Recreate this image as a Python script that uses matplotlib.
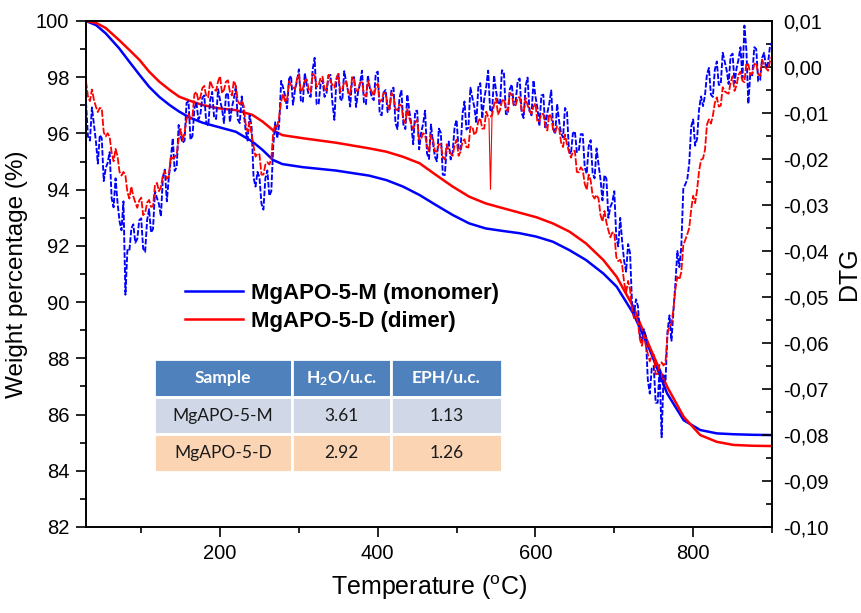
import numpy as np
import matplotlib
matplotlib.use('Agg')
import matplotlib.pyplot as plt
from matplotlib.ticker import MultipleLocator, FuncFormatter

plt.rcParams['font.family'] = ['Liberation Sans', 'DejaVu Sans']
plt.rcParams['mathtext.default'] = 'regular'

# TGA curves (weight %)
tga_temp = [30, 43, 55, 72, 85, 98, 110, 123, 136, 148, 161, 178, 199, 220, 241, 254, 267, 279,
            305, 347, 389, 411, 432, 453, 474, 495, 516, 537, 559, 580, 601, 622, 643, 664,
            686, 703, 724, 745, 767, 788, 809, 830, 851, 875, 900]
tga_monomer = [100.0, 99.85, 99.56, 99.03, 98.55, 98.08, 97.66, 97.3, 97.01, 96.78, 96.57, 96.38,
               96.22, 96.06, 95.71, 95.41, 95.06, 94.91, 94.8, 94.68, 94.5, 94.34, 94.11, 93.81,
               93.45, 93.1, 92.8, 92.62, 92.53, 92.45, 92.33, 92.15, 91.85, 91.5, 91.02, 90.55,
               89.6, 88.3, 86.75, 85.8, 85.45, 85.33, 85.3, 85.28, 85.27]
tga_dimer = [100.0, 99.93, 99.75, 99.32, 98.97, 98.61, 98.2, 97.84, 97.55, 97.31, 97.17, 97.01,
             96.89, 96.83, 96.66, 96.42, 96.12, 95.94, 95.83, 95.67, 95.47, 95.35, 95.17, 94.94,
             94.52, 94.11, 93.75, 93.51, 93.34, 93.18, 93.02, 92.8, 92.51, 92.09, 91.5, 90.9,
             89.84, 88.4, 86.99, 85.92, 85.27, 85.03, 84.92, 84.89, 84.88]

# DTG traces: readings every 5 C (30..900) and the readings in between (32.5..897.5)
dtg_temp_a = np.arange(30, 901, 5)
dtg_temp_b = np.arange(32.5, 900, 5)
dtg_monomer_a = [
    -0.0077, -0.0160, -0.0125, -0.0210, -0.0155, -0.0220, -0.0185, -0.0305, -0.0295, -0.0355,
    -0.0495, -0.0400, -0.0342, -0.0374, -0.0329, -0.0402, -0.0309, -0.0352, -0.0285, -0.0325,
    -0.0223, -0.0240, -0.0155, -0.0218, -0.0150, -0.0160, -0.0075, -0.0150, -0.0076, -0.0104,
    -0.0062, -0.0128, -0.0054, -0.0113, -0.0072, -0.0122, -0.0056, -0.0088, -0.0042, -0.0122,
    -0.0098, -0.0160, -0.0130, -0.0260, -0.0240, -0.0310, -0.0225, -0.0270, -0.0120, -0.0125,
    -0.0045, -0.0090, -0.0019, -0.0050, -0.0005, -0.0077, -0.0041, -0.0065, 0.0020, -0.0081,
    -0.0029, -0.0057, -0.0017, -0.0115, -0.0013, -0.0073, -0.0033, -0.0086, -0.0022, -0.0055,
    -0.0008, -0.0081, -0.0046, -0.0072, -0.0010, -0.0105, -0.0050, -0.0090, -0.0045, -0.0135,
    -0.0050, -0.0135, -0.0095, -0.0168, -0.0095, -0.0143, -0.0095, -0.0200, -0.0165, -0.0205,
    -0.0143, -0.0235, -0.0162, -0.0185, -0.0115, -0.0180, -0.0075, -0.0132, -0.0067, -0.0122,
    -0.0035, -0.0070, -0.0008, -0.0098, -0.0052, -0.0082, -0.0012, -0.0103, -0.0038, -0.0074,
    -0.0025, -0.0111, -0.0023, -0.0105, -0.0064, -0.0128, -0.0060, -0.0100, -0.0051, -0.0146,
    -0.0118, -0.0153, -0.0097, -0.0189, -0.0140, -0.0182, -0.0146, -0.0232, -0.0159, -0.0242,
    -0.0212, -0.0290, -0.0243, -0.0304, -0.0270, -0.0390, -0.0380, -0.0445, -0.0405, -0.0535,
    -0.0520, -0.0595, -0.0585, -0.0710, -0.0650, -0.0730, -0.0805, -0.0680, -0.0540, -0.0530,
    -0.0400, -0.0390, -0.0255, -0.0210, -0.0114, -0.0156, -0.0064, -0.0062, -0.0002, -0.0065,
    0.0012, -0.0038, 0.0012, -0.0037, 0.0029, -0.0003, 0.0043, 0.0090, -0.0080, -0.0018,
    0.0039, -0.0028, 0.0031, 0.0008, 0.0053,
]
dtg_monomer_b = [
    -0.0151, -0.0088, -0.0160, -0.0148, -0.0248, -0.0208, -0.0285, -0.0242, -0.0335, -0.0292,
    -0.0398, -0.0351, -0.0382, -0.0333, -0.0395, -0.0333, -0.0360, -0.0270, -0.0298, -0.0239,
    -0.0292, -0.0202, -0.0226, -0.0126, -0.0165, -0.0078, -0.0158, -0.0090, -0.0114, -0.0067,
    -0.0121, -0.0071, -0.0110, -0.0048, -0.0091, -0.0061, -0.0120, -0.0069, -0.0114, -0.0064,
    -0.0138, -0.0105, -0.0240, -0.0228, -0.0297, -0.0242, -0.0280, -0.0170, -0.0155, -0.0030,
    -0.0063, -0.0026, -0.0082, -0.0031, -0.0073, -0.0013, -0.0061, -0.0005, -0.0081, -0.0037,
    -0.0065, -0.0021, -0.0077, -0.0029, -0.0069, -0.0009, -0.0054, -0.0026, -0.0087, -0.0036,
    -0.0077, -0.0018, -0.0067, -0.0014, -0.0102, -0.0055, -0.0098, -0.0048, -0.0122, -0.0068,
    -0.0125, -0.0060, -0.0124, -0.0096, -0.0179, -0.0124, -0.0188, -0.0125, -0.0195, -0.0134,
    -0.0234, -0.0176, -0.0201, -0.0130, -0.0180, -0.0102, -0.0136, -0.0045, -0.0087, -0.0044,
    -0.0112, -0.0044, -0.0093, -0.0018, -0.0077, -0.0007, -0.0102, -0.0048, -0.0083, -0.0030,
    -0.0100, -0.0042, -0.0096, -0.0029, -0.0089, -0.0062, -0.0134, -0.0080, -0.0134, -0.0080,
    -0.0144, -0.0089, -0.0184, -0.0144, -0.0185, -0.0146, -0.0218, -0.0173, -0.0230, -0.0177,
    -0.0244, -0.0235, -0.0328, -0.0294, -0.0370, -0.0328, -0.0422, -0.0385, -0.0515, -0.0505,
    -0.0585, -0.0570, -0.0680, -0.0655, -0.0730, -0.0655, -0.0670, -0.0575, -0.0595, -0.0470,
    -0.0435, -0.0265, -0.0245, -0.0130, -0.0171, -0.0092, -0.0085, -0.0016, -0.0060, -0.0006,
    -0.0039, 0.0031, -0.0007, 0.0024, -0.0035, 0.0016, -0.0024, 0.0037, -0.0013, 0.0043,
    -0.0031, 0.0020, -0.0003, 0.0047,
]
dtg_dimer_a = [
    -0.0031, -0.0074, -0.0071, -0.0098, -0.0090, -0.0151, -0.0152, -0.0205, -0.0194, -0.0236,
    -0.0236, -0.0286, -0.0281, -0.0306, -0.0284, -0.0317, -0.0289, -0.0303, -0.0252, -0.0261,
    -0.0226, -0.0238, -0.0199, -0.0190, -0.0135, -0.0142, -0.0102, -0.0108, -0.0054, -0.0066,
    -0.0041, -0.0066, -0.0042, -0.0052, -0.0020, -0.0050, -0.0029, -0.0062, -0.0041, -0.0081,
    -0.0084, -0.0141, -0.0146, -0.0195, -0.0190, -0.0234, -0.0207, -0.0200, -0.0126, -0.0108,
    -0.0058, -0.0071, -0.0039, -0.0048, -0.0016, -0.0047, -0.0027, -0.0055, -0.0019, -0.0041,
    -0.0021, -0.0051, -0.0031, -0.0045, -0.0015, -0.0049, -0.0031, -0.0061, -0.0027, -0.0051,
    -0.0033, -0.0064, -0.0045, -0.0062, -0.0036, -0.0072, -0.0057, -0.0092, -0.0064, -0.0094,
    -0.0084, -0.0122, -0.0111, -0.0135, -0.0115, -0.0157, -0.0147, -0.0183, -0.0156, -0.0184,
    -0.0168, -0.0201, -0.0182, -0.0193, -0.0158, -0.0184, -0.0157, -0.0175, -0.0130, -0.0141,
    -0.0111, -0.0134, -0.0108, -0.0105, -0.0068, -0.0094, -0.0070, -0.0096, -0.0060, -0.0083,
    -0.0066, -0.0099, -0.0083, -0.0102, -0.0079, -0.0117, -0.0102, -0.0138, -0.0109, -0.0141,
    -0.0133, -0.0174, -0.0168, -0.0197, -0.0182, -0.0229, -0.0224, -0.0267, -0.0246, -0.0286,
    -0.0286, -0.0336, -0.0338, -0.0370, -0.0360, -0.0422, -0.0432, -0.0490, -0.0484, -0.0546,
    -0.0556, -0.0606, -0.0606, -0.0640, -0.0625, -0.0667, -0.0642, -0.0640, -0.0564, -0.0526,
    -0.0456, -0.0446, -0.0376, -0.0350, -0.0280, -0.0267, -0.0202, -0.0180, -0.0114, -0.0106,
    -0.0066, -0.0084, -0.0053, -0.0058, -0.0020, -0.0040, -0.0010, -0.0033, 0.0006, -0.0014,
    0.0009, -0.0019, 0.0004, -0.0008, 0.0024,
]
dtg_dimer_b = [
    -0.0064, -0.0049, -0.0086, -0.0089, -0.0142, -0.0144, -0.0186, -0.0178, -0.0228, -0.0228,
    -0.0272, -0.0260, -0.0294, -0.0290, -0.0322, -0.0295, -0.0304, -0.0256, -0.0270, -0.0236,
    -0.0243, -0.0194, -0.0196, -0.0158, -0.0160, -0.0114, -0.0113, -0.0059, -0.0073, -0.0046,
    -0.0064, -0.0030, -0.0048, -0.0031, -0.0057, -0.0032, -0.0054, -0.0030, -0.0074, -0.0074,
    -0.0124, -0.0120, -0.0172, -0.0188, -0.0234, -0.0212, -0.0212, -0.0141, -0.0130, -0.0075,
    -0.0076, -0.0031, -0.0044, -0.0027, -0.0054, -0.0029, -0.0049, -0.0015, -0.0043, -0.0023,
    -0.0047, -0.0017, -0.0039, -0.0025, -0.0054, -0.0032, -0.0054, -0.0022, -0.0052, -0.0034,
    -0.0060, -0.0030, -0.0054, -0.0044, -0.0076, -0.0056, -0.0082, -0.0056, -0.0092, -0.0081,
    -0.0114, -0.0092, -0.0124, -0.0120, -0.0158, -0.0144, -0.0173, -0.0148, -0.0183, -0.0168,
    -0.0196, -0.0168, -0.0188, -0.0170, -0.0193, -0.0162, -0.0174, -0.0130, -0.0148, -0.0118,
    -0.0134, -0.0097, -0.0108, -0.0082, -0.0103, -0.0074, -0.0091, -0.0056, -0.0084, -0.0066,
    -0.0094, -0.0067, -0.0094, -0.0086, -0.0120, -0.0102, -0.0128, -0.0102, -0.0138, -0.0129,
    -0.0164, -0.0147, -0.0184, -0.0184, -0.0228, -0.0218, -0.0254, -0.0234, -0.0279, -0.0278,
    -0.0322, -0.0313, -0.0355, -0.0360, -0.0413, -0.0419, -0.0469, -0.0465, -0.0528, -0.0543,
    -0.0592, -0.0582, -0.0624, -0.0628, -0.0668, -0.0646, -0.0649, -0.0580, -0.0558, -0.0483,
    -0.0462, -0.0387, -0.0364, -0.0310, -0.0296, -0.0226, -0.0199, -0.0125, -0.0123, -0.0078,
    -0.0086, -0.0044, -0.0056, -0.0034, -0.0052, -0.0017, -0.0030, 0.0008, -0.0017, 0.0006,
    -0.0016, 0.0016, -0.0003, 0.0013,
]
# narrow glitch in the dimer trace
spike_temp = [541, 543, 545]
spike_dimer = [-0.0112, -0.0266, -0.0100]

labels = ['MgAPO-5-M (monomer)', 'MgAPO-5-D (dimer)']
table_header = ['Sample', r'H$_\mathregular{2}$O/u.c.', 'EPH/u.c.']
table_rows = [['MgAPO-5-M', '3.61', '1.13'],
              ['MgAPO-5-D', '2.92', '1.26']]

blue = '#0000ff'
red = '#ff0000'


def merged(temp_a, vals_a, temp_b, vals_b):
    t = np.concatenate([temp_a, temp_b])
    v = np.concatenate([vals_a, vals_b])
    order = np.argsort(t)
    return t[order], v[order]


fig = plt.figure(figsize=(8.61, 6.13), dpi=100)
ax = fig.add_axes([86 / 861, 86 / 613, 686 / 861, 506 / 613])
ax2 = ax.twinx()

l1, = ax.plot(tga_temp, tga_monomer, color=blue, lw=1.8)
l2, = ax.plot(tga_temp, tga_dimer, color=red, lw=1.8)

t_m, v_m = merged(dtg_temp_a, dtg_monomer_a, dtg_temp_b, dtg_monomer_b)
t_d, v_d = merged(dtg_temp_a, dtg_dimer_a, dtg_temp_b, dtg_dimer_b)
ax2.plot(t_m, v_m, color=blue, lw=1.35, dashes=(3, 1))
ax2.plot(t_d, v_d, color=red, lw=1.3, dashes=(4, 1))
ax2.plot(spike_temp, spike_dimer, color=red, lw=0.8)

ax.set_xlim(30, 900)
ax.set_ylim(82, 100)
ax2.set_ylim(-0.10, 0.01)

ax.xaxis.set_major_locator(MultipleLocator(200))
ax.xaxis.set_minor_locator(MultipleLocator(100))
ax.yaxis.set_major_locator(MultipleLocator(2))
ax.yaxis.set_minor_locator(MultipleLocator(1))
ax2.yaxis.set_major_locator(MultipleLocator(0.01))
ax2.yaxis.set_minor_locator(MultipleLocator(0.005))


def comma_fmt(v, pos):
    if abs(v) < 1e-9:
        v = 0.0
    return f'{v:.2f}'.replace('.', ',')


ax2.yaxis.set_major_formatter(FuncFormatter(comma_fmt))

for a in (ax, ax2):
    for s in a.spines.values():
        s.set_linewidth(1.2)
ax.tick_params(axis='both', which='major', direction='out', length=7, width=1.2, labelsize=14.5, pad=5)
ax.tick_params(axis='both', which='minor', direction='out', length=4, width=1.2)
ax.tick_params(top=False, right=False)
ax2.tick_params(axis='y', which='major', direction='in', length=7, width=1.2, labelsize=14.5, pad=8)
ax2.tick_params(axis='y', which='minor', direction='in', length=4, width=1.2)

ax.set_xlabel(r'Temperature ($\mathregular{^o}$C)', fontsize=18, labelpad=8)
ax.set_ylabel('Weight percentage (%)', fontsize=17.5, labelpad=6)
ax2.set_ylabel('DTG', fontsize=18, labelpad=6)

ax2.legend([l1, l2], labels, loc='upper left', bbox_to_anchor=(185 / 861, 1 - 283 / 613),
           bbox_transform=fig.transFigure, frameon=False, prop=dict(weight='bold', size=16),
           handlelength=2.6, handletextpad=0.35, labelspacing=0.3, borderpad=0, borderaxespad=0)

# inset table
tbl = ax2.table(cellText=table_rows, colLabels=table_header, cellLoc='center',
                colWidths=[136, 98, 110], bbox=[0.0991, 0.1087, 0.5073, 0.2233])
tbl.auto_set_font_size(False)
row_colors = ['#4f81bd', '#d0d8e8', '#fbd4b4']
for (r, c), cell in tbl.get_celld().items():
    cell.set_facecolor(row_colors[r])
    cell.set_edgecolor('white')
    cell.set_linewidth(2)
    txt = cell.get_text()
    txt.set_fontfamily(['Lato', 'DejaVu Sans'])
    txt.set_fontsize(12.5)
    if r == 0:
        txt.set_color('white')
        txt.set_fontweight('bold')
    else:
        txt.set_color('#1a1a1a')

fig.savefig('out.png', dpi=100)
